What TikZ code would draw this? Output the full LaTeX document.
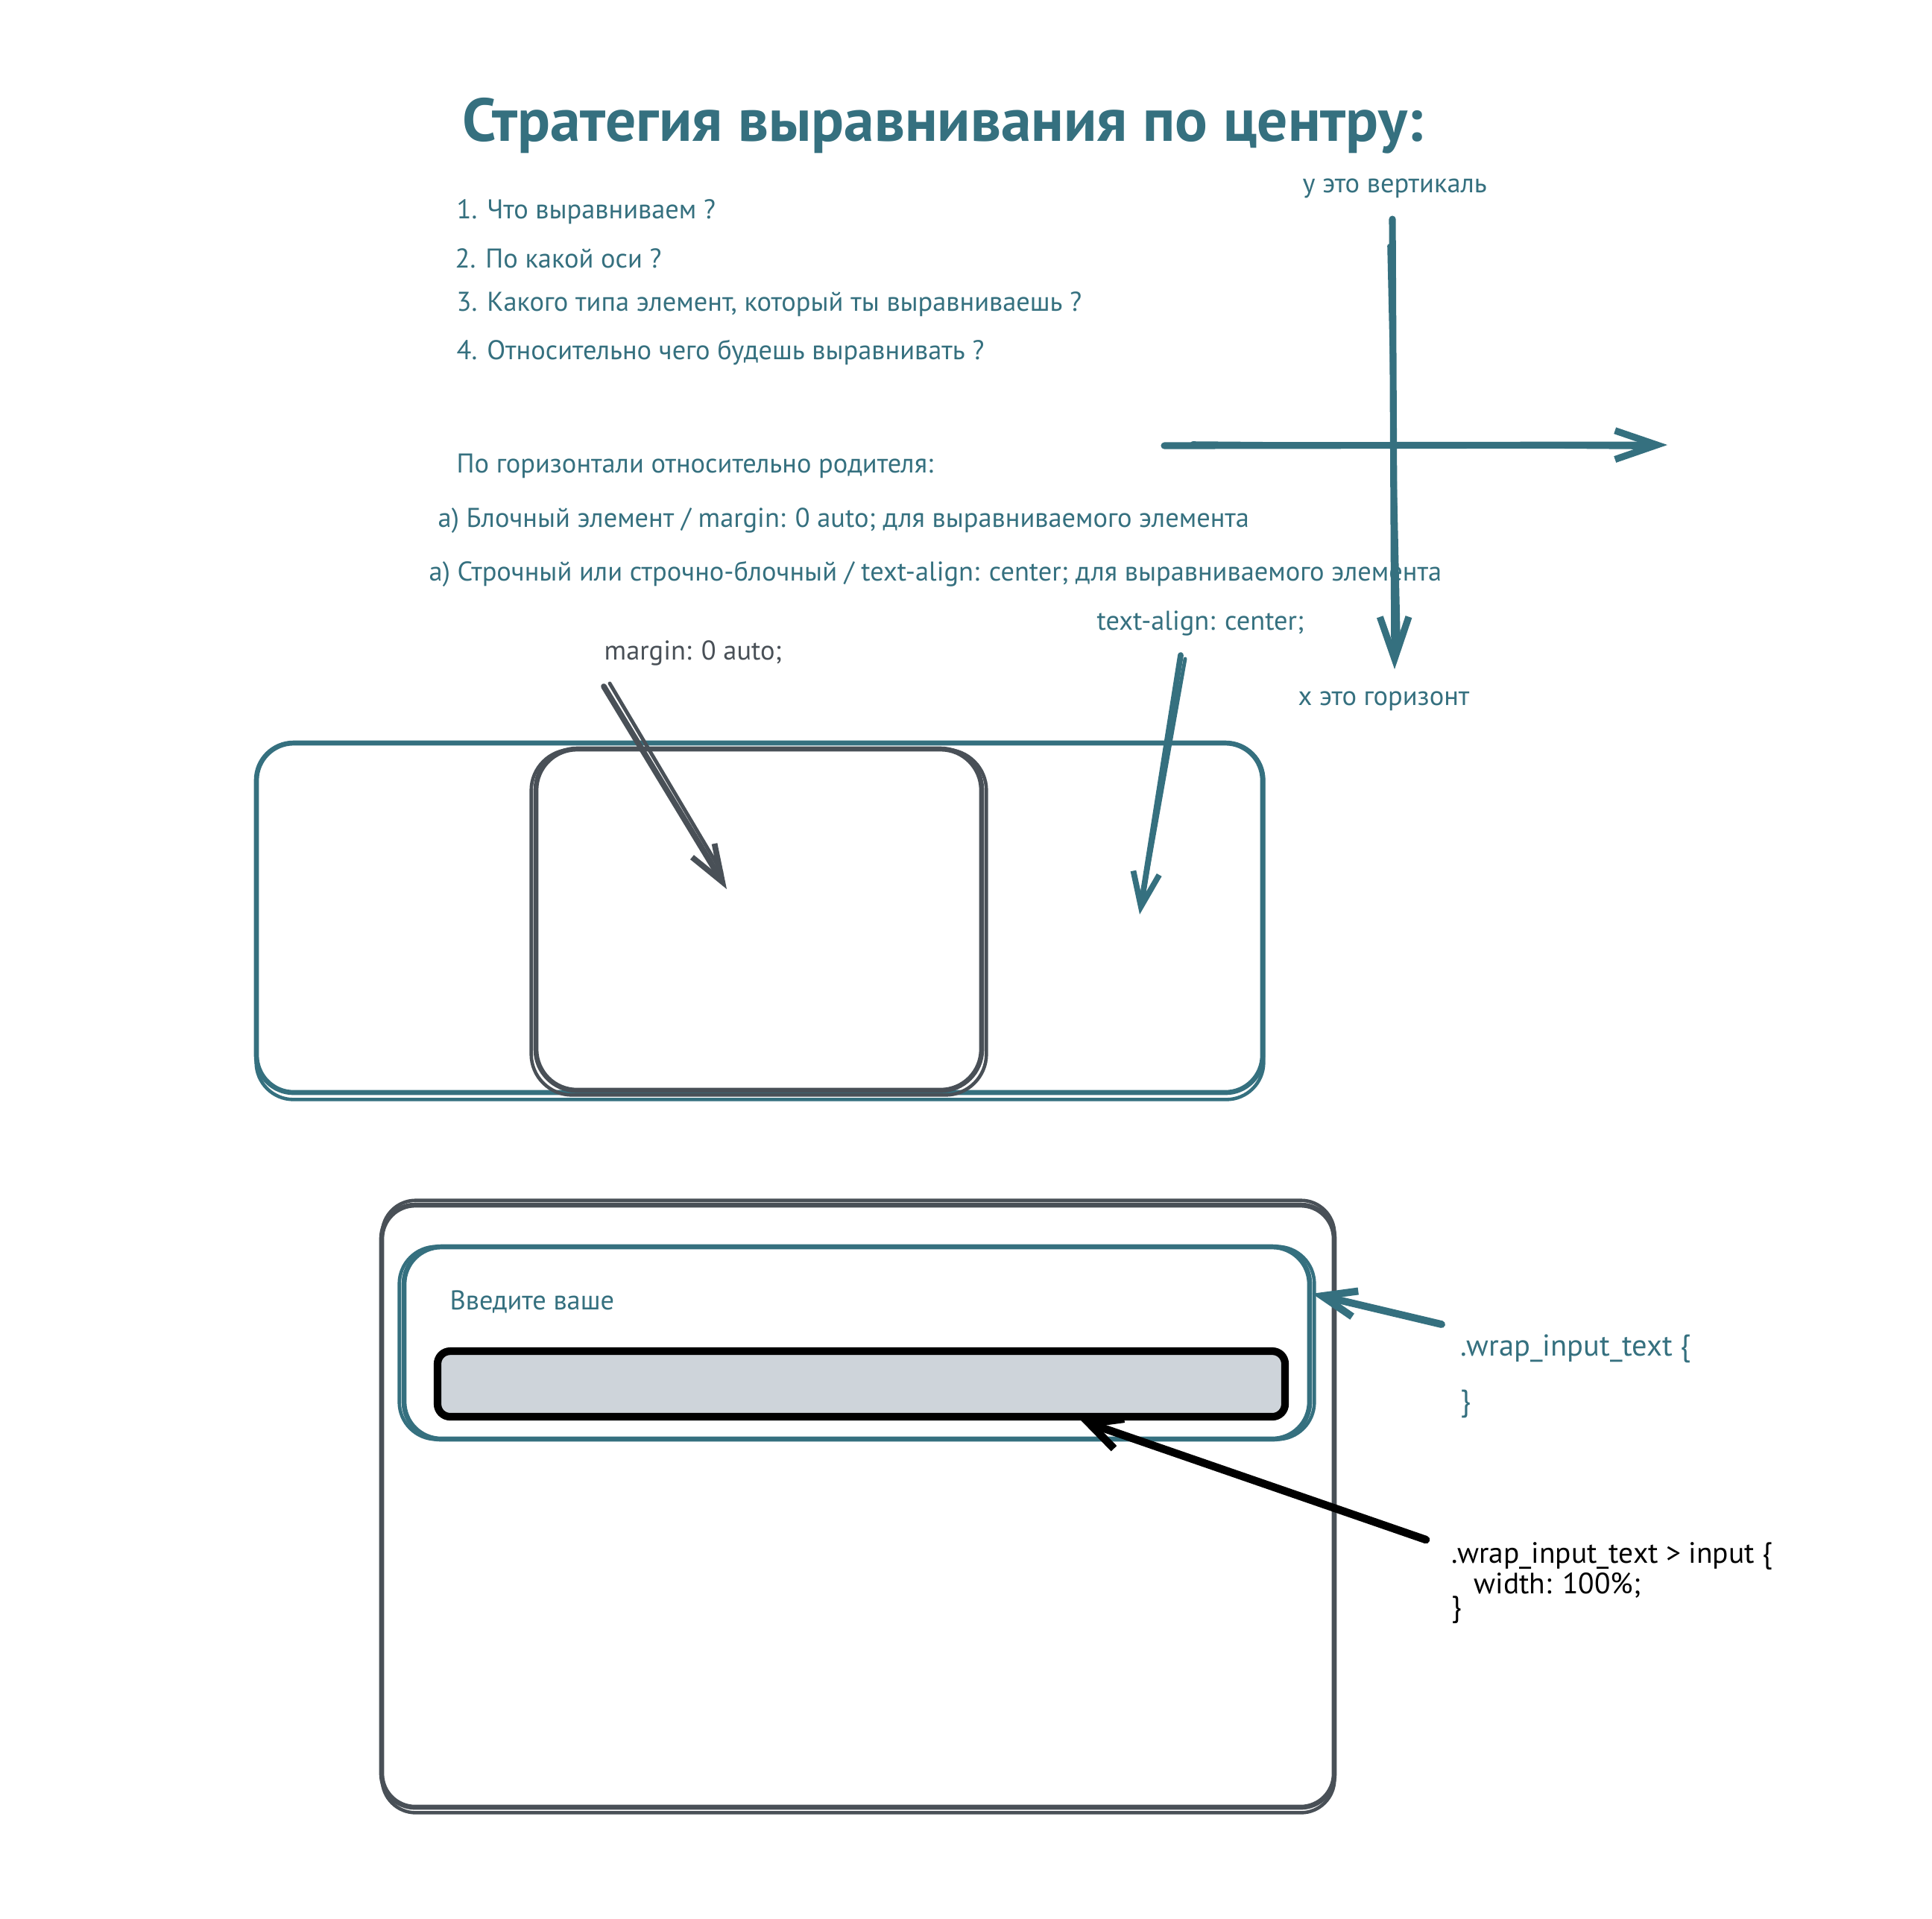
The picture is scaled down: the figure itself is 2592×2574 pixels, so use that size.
\documentclass[tikz,border=0pt]{standalone}
\usepackage{fontspec}
\setmainfont{PT Sans}
\usetikzlibrary{arrows.meta,calc}
\definecolor{exteal}{HTML}{35707F}
\definecolor{exgrey}{HTML}{495057}
\definecolor{exfill}{HTML}{CED4DA}
\newlength\pxu \setlength\pxu{0.01cm}
\newlength\mwa
\newlength\mwb
\newlength\mwc
\newcommand\fitw[2]{\resizebox{#1\pxu}{!}{#2}}
\begin{document}
\settowidth\mwa{3. Какого типа элемент, который ты выравниваешь ?}
\settowidth\mwb{.wrap\_input\_text \{}
\settowidth\mwc{.wrap\_input\_text > input \{}
\pgfmathsetmacro\sA{838*0.284528/\mwa}
\pgfmathsetmacro\sB{309*0.284528/\mwb}
\pgfmathsetmacro\sC{430*0.284528/\mwc}
\begin{tikzpicture}[x=0.01cm,y=-0.01cm,
  line cap=round, line join=round,
  txt/.style={anchor=west, inner sep=0pt, text=exteal},
  gtxt/.style={anchor=west, inner sep=0pt, text=exgrey},
  btxt/.style={anchor=west, inner sep=0pt, text=black},
  tealbox/.style={draw=exteal, line width=1.9pt, rounded corners=50\pxu, inner sep=0pt},
  greybox/.style={draw=exgrey, line width=1.9pt, rounded corners=55\pxu, inner sep=0pt},
  inputbox/.style={draw=black, fill=exfill, line width=2.9pt, rounded corners=17\pxu, inner sep=0pt},
  sk/.style={line width=1.3pt, rounded corners=50\pxu},
  axis/.style={draw=exteal, line width=2.6pt, -{Straight Barb[length=16pt,width=11pt]}},
  tealarrow/.style={draw=exteal, line width=2.2pt, -{Straight Barb[length=13pt,width=10pt]}},
  greyarrow/.style={draw=exgrey, line width=2.2pt, -{Straight Barb[length=14pt,width=10pt]}},
  blackarrow/.style={draw=black, line width=3pt, -{Straight Barb[length=12pt,width=12pt]}}
]
\useasboundingbox[fill=white] (0,0) rectangle (2592,2574);

% texts
\node[txt] (title) at (620,169) {\fitw{1289}{\bfseries Стратегия выравнивания по центру:}};
\node[txt] (l1) at (612,284) {\scalebox{\sA}{1. Что выравниваем ?}};
\node[txt] (l2) at (610,347) {\scalebox{\sA}{2. По какой оси ?}};
\node[txt] (l3) at (612,408) {\scalebox{\sA}{3. Какого типа элемент, который ты выравниваешь ?}};
\node[txt] (l4) at (612,473) {\scalebox{\sA}{4. Относительно чего будешь выравнивать ?}};
\node[txt] (hz) at (612,625) {\scalebox{\sA}{По горизонтали относительно родителя:}};
\node[txt] (a1) at (587,699) {\scalebox{\sA}{а) Блочный элемент / margin: 0 auto; для выравниваемого элемента}};
\node[txt] (a2) at (575,770) {\scalebox{\sA}{а) Строчный или строчно-блочный / text-align: center; для выравниваемого элемента}};
\node[txt] (ta) at (1471,836) {\scalebox{\sA}{text-align: center;}};
\node[gtxt] (ma) at (810,876) {\scalebox{\sA}{margin: 0 auto;}};
\node[txt] (yl) at (1747,253) {\scalebox{\sA}{y это вертикаль}};
\node[txt] (xl) at (1741,941) {\scalebox{\sA}{x это горизонт}};

% axes
\coordinate (vtop) at (1868,294);
\coordinate (vbot) at (1871,898);
\coordinate (hl) at (1562,598);
\coordinate (hr) at (2237,597);
\draw[axis] (vtop) -- (vbot);
\draw[axis] (hl) -- (hr);
\draw[exteal, line width=1.6pt] (1864,330) -- (1876,860);
\draw[exteal, line width=1.6pt] (1600,595) -- (2200,600);

% first diagram
\node[tealbox, minimum width=1350\pxu, minimum height=469\pxu] (outerA) at (1019,1231.5) {};
\node[greybox, minimum width=598\pxu, minimum height=458\pxu] (innerA) at (1018,1234) {};
\draw[exteal, sk] ($(outerA.north west)+(3,3)$) rectangle ($(outerA.south east)+(-2,6)$);
\draw[exgrey, sk, rounded corners=55\pxu] ($(innerA.north west)+(-3,4)$) rectangle ($(innerA.south east)+(3,3)$);
\coordinate (ma0) at (810,921);
\coordinate (ma1) at (975,1193);
\draw[greyarrow] (ma0) -- (ma1);
\draw[exgrey, line width=1.4pt] (818,917) -- (968,1170);
\coordinate (ta0) at (1584,879);
\coordinate (ta1) at (1529,1227);
\draw[tealarrow] (ta0) -- (ta1);
\draw[exteal, line width=1.4pt] (1590,884) -- (1534,1200);

% second diagram
\node[greybox, rounded corners=45\pxu, minimum width=1278\pxu, minimum height=808\pxu] (outerB) at (1151,2021) {};
\draw[exgrey, sk, rounded corners=45\pxu] ($(outerB.north west)+(4,-3)$) rectangle ($(outerB.south east)+(-3,4)$);
\node[tealbox, minimum width=1215\pxu, minimum height=258\pxu] (wrap) at (1149.5,1802) {};
\draw[exteal, sk] ($(wrap.north west)+(-3,3)$) rectangle ($(wrap.south east)+(3,-3)$);
\node[txt] (vv) at (603,1747) {\scalebox{\sA}{Введите ваше}};
\node[inputbox, minimum width=1137\pxu, minimum height=88\pxu] (input) at (1155.5,1857) {};

\node[txt] (css1) at (1959,1810) {\scalebox{\sB}{.wrap\_input\_text \{}};
\node[txt] (css1e) at (1959,1884) {\scalebox{\sB}{\}}};
\node[btxt] (css2) at (1947,2088) {\scalebox{\sC}{.wrap\_input\_text > input \{}};
\node[btxt] (css2b) at (1977,2127) {\scalebox{\sC}{width: 100\%;}};
\node[btxt] (css2e) at (1947,2160) {\scalebox{\sC}{\}}};

\coordinate (wa0) at (1934,1777);
\draw[tealarrow, line width=2.8pt] (wa0) -- ($(wrap.north east)!0.25!(wrap.south east)$);
\coordinate (ia0) at (1913,2066);
\draw[blackarrow] (ia0) -- ($(input.south west)!0.757!(input.south east)$);
\end{tikzpicture}
\end{document}
